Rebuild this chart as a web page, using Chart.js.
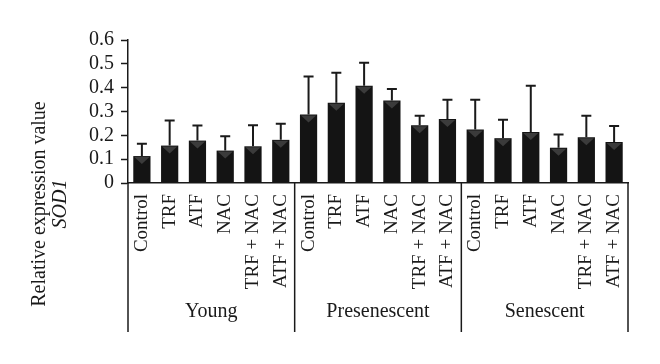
<!DOCTYPE html>
<html>
<head>
<meta charset="utf-8">
<script src="https://cdn.jsdelivr.net/npm/chart.js@4.4.0/dist/chart.umd.min.js"></script>
<style>
  body { margin: 0; background: #fff; }
  #wrap { width: 660px; height: 364px; }
</style>
</head>
<body>
<div id="wrap"><canvas id="c" width="660" height="364"></canvas></div>
<script>
// values
const groups = ['Young', 'Presenescent', 'Senescent'];
const treatments = ['Control', 'TRF', 'ATF', 'NAC', 'TRF + NAC', 'ATF + NAC'];

const meanYoung = [0.113, 0.157, 0.178, 0.136, 0.154, 0.181];
const errYoung  = [0.052, 0.105, 0.063, 0.060, 0.088, 0.068];
const meanPres  = [0.287, 0.337, 0.408, 0.346, 0.242, 0.269];
const errPres   = [0.160, 0.126, 0.097, 0.048, 0.040, 0.080];
const meanSen   = [0.225, 0.188, 0.214, 0.148, 0.192, 0.172];
const errSen    = [0.124, 0.077, 0.194, 0.055, 0.090, 0.067];

const yTicks = [0, 0.1, 0.2, 0.3, 0.4, 0.5, 0.6];

let labels = [].concat(treatments, treatments, treatments);
let values = [].concat(meanYoung, meanPres, meanSen);
let errors = [].concat(errYoung, errPres, errSen);

const serif = 'Liberation Serif';
const ink = '#1a1a1a';

// error bars (upper only) + the little shaded triangle at each bar top
const errorBars = {
  id: 'errorBars',
  afterDatasetsDraw(chart) {
    let ctx = chart.ctx;
    let y = chart.scales.y;
    let meta = chart.getDatasetMeta(0);
    ctx.save();
    meta.data.forEach(function (bar, i) {
      let top = y.getPixelForValue(values[i]);
      let hi = y.getPixelForValue(values[i] + errors[i]);
      let half = bar.width / 2;
      ctx.fillStyle = '#3b3b3b';
      ctx.beginPath();
      ctx.moveTo(bar.x - half + 1, top + 1);
      ctx.lineTo(bar.x + half - 1, top + 1);
      ctx.lineTo(bar.x, top + 8);
      ctx.closePath();
      ctx.fill();

      ctx.strokeStyle = ink;
      ctx.lineWidth = 2;
      ctx.beginPath();
      ctx.moveTo(bar.x, top);
      ctx.lineTo(bar.x, hi);
      ctx.moveTo(bar.x - 5, hi);
      ctx.lineTo(bar.x + 5, hi);
      ctx.stroke();
    });
    ctx.restore();
  }
};

// group separators, group names and the two-line y title
const groupAxis = {
  id: 'groupAxis',
  afterDraw(chart) {
    let ctx = chart.ctx;
    let x = chart.scales.x;
    let area = chart.chartArea;
    let n = treatments.length;
    let lineBottom = area.bottom + 149;
    ctx.save();
    ctx.strokeStyle = ink;
    ctx.lineWidth = 1.5;
    ctx.fillStyle = ink;
    ctx.font = '20px "' + serif + '"';
    ctx.textAlign = 'center';
    ctx.textBaseline = 'middle';
    for (let g = 0; g <= groups.length; g++) {
      let edge;
      if (g === 0) edge = area.left;
      else if (g === groups.length) edge = area.right;
      else edge = (x.getPixelForValue(g * n - 1) + x.getPixelForValue(g * n)) / 2;
      ctx.beginPath();
      ctx.moveTo(edge, area.bottom);
      ctx.lineTo(edge, lineBottom);
      ctx.stroke();
    }
    groups.forEach(function (name, g) {
      let cx = (x.getPixelForValue(g * n) + x.getPixelForValue(g * n + n - 1)) / 2;
      ctx.fillText(name, cx, area.bottom + 129);
    });

    // y title
    let midY = (area.top + lineBottom) / 2 + 18;
    ctx.translate(0, midY);
    ctx.rotate(-Math.PI / 2);
    ctx.fillText('Relative expression value', 0, 40);
    ctx.font = 'italic 20px "' + serif + '"';
    ctx.fillText('SOD1', 0, 61);
    ctx.restore();
  }
};

let config = {
  type: 'bar',
  data: {
    labels: labels,
    datasets: [{
      data: values,
      backgroundColor: '#141414',
      borderWidth: 0,
      barPercentage: 0.62,
      categoryPercentage: 1
    }]
  },
  options: {
    responsive: false,
    animation: false,
    layout: { padding: { left: 78, right: 32, top: 40, bottom: 71 } },
    plugins: {
      legend: { display: false },
      tooltip: { enabled: false }
    },
    scales: {
      x: {
        afterFit: function (s) { s.height = 110; },
        grid: { display: false, drawTicks: false },
        border: { color: ink, width: 1.5 },
        ticks: {
          color: ink,
          font: { family: serif, size: 19 },
          minRotation: 90,
          maxRotation: 90,
          autoSkip: false,
          padding: 11
        }
      },
      y: {
        min: 0,
        max: 0.6,
        afterFit: function (s) { s.width = 50; },
        afterBuildTicks: function (s) { s.ticks = yTicks.map(v => ({ value: v })); },
        grid: { display: true, drawOnChartArea: false, drawTicks: true, tickLength: 7, color: ink, tickWidth: 1.5 },
        border: { color: ink, width: 1.5 },
        ticks: {
          color: ink,
          font: { family: serif, size: 20 },
          padding: 7,
          autoSkip: false,
          callback: function (v) { return v === 0 ? '0' : v.toFixed(1); }
        }
      }
    }
  },
  plugins: [errorBars, groupAxis]
};

new Chart(document.getElementById('c').getContext('2d'), config);
</script>
</body>
</html>
